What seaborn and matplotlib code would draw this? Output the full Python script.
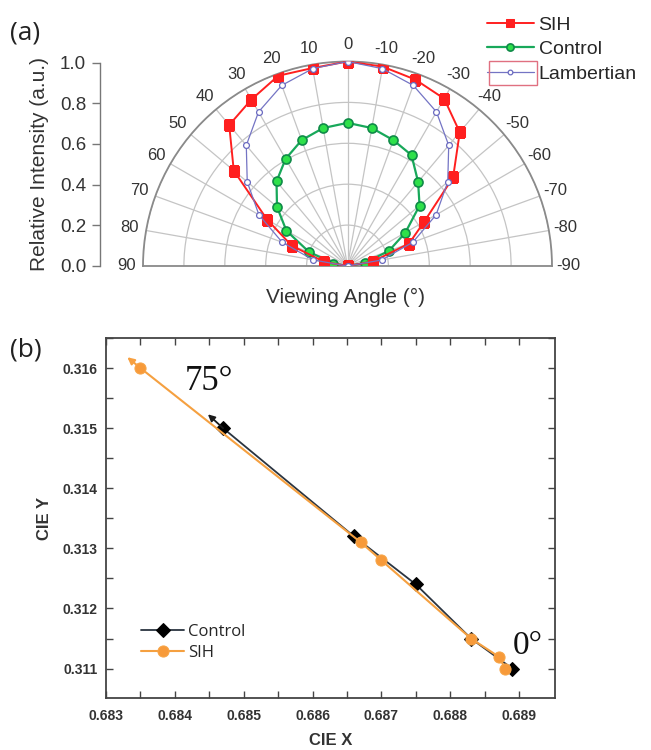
import numpy as np
import pandas as pd
import seaborn as sns
import matplotlib
matplotlib.use('Agg')
import matplotlib.pyplot as plt
from matplotlib.patches import Rectangle

# %% --------------------------------------------------------------------
# Data

# (a) angular emission, angle in degrees (0 = normal, + to the left)
angles = [90, 80, 70, 60, 50, 40, 30, 20, 10, 0,
          -10, -20, -30, -40, -50, -60, -70, -80, -90]
sih = [0.0, 0.115, 0.29, 0.454, 0.726, 0.90, 0.94, 0.99, 0.983, 1.0,
       0.99, 0.97, 0.945, 0.854, 0.674, 0.433, 0.32, 0.125, 0.0]
control = [0.0, 0.07, 0.20, 0.345, 0.45, 0.54, 0.605, 0.655, 0.685, 0.70,
           0.685, 0.655, 0.626, 0.537, 0.46, 0.327, 0.215, 0.085, 0.0]
lambertian = [0.0, 0.17, 0.34, 0.50, 0.64, 0.77, 0.87, 0.94, 0.98, 1.0,
              0.98, 0.94, 0.87, 0.77, 0.64, 0.50, 0.34, 0.17, 0.0]
r_ticks = [0.0, 0.2, 0.4, 0.6, 0.8, 1.0]
theta_ticks = list(range(-90, 91, 10))

# (b) CIE colour coordinates, from 0 deg to 75 deg
ctrl_x = [0.6889, 0.6883, 0.6875, 0.6866, 0.6847]
ctrl_y = [0.3110, 0.3115, 0.3124, 0.3132, 0.3150]
ctrl_arrow = (0.68448, 0.31523)
sih_x = [0.6888, 0.6887, 0.6883, 0.6870, 0.6867, 0.6835]
sih_y = [0.3110, 0.3112, 0.3115, 0.3128, 0.3131, 0.3160]
sih_arrow = (0.68331, 0.31618)
cie_xticks = [0.683, 0.684, 0.685, 0.686, 0.687, 0.688, 0.689]
cie_yticks = [0.311, 0.312, 0.313, 0.314, 0.315, 0.316]

# %% --------------------------------------------------------------------
# Style

sns.set_style('white')
plt.rcParams['font.family'] = ['Liberation Sans', 'DejaVu Sans']

fig = plt.figure(figsize=(6.51, 7.5), dpi=100)

W, H = 651, 750
def rect(l, t, r, b):
    return [l / W, 1 - b / H, (r - l) / W, (b - t) / H]

# %% --------------------------------------------------------------------
# (a) polar plot (square box so the half disc keeps its full radius)

R = (552 - 143) / 2
cy = 266 - R / 2
ax = fig.add_axes(rect(143, cy - R, 552, cy + R), projection='polar')
ax.set_theta_zero_location('N')
ax.set_theta_direction(1)
ax.set_thetamin(-90)
ax.set_thetamax(90)
ax.set_ylim(0, 1)

th = np.deg2rad(angles)
sns.lineplot(x=th, y=sih, ax=ax, sort=False, color='#ff1f1f', lw=1.4,
             marker='s', markersize=7, markeredgecolor='#ff1f1f',
             label='SIH', zorder=4)
sns.lineplot(x=th, y=control, ax=ax, sort=False, color='#18a85a', lw=1.6,
             marker='o', markersize=6.5, markerfacecolor='#2ee04a',
             markeredgecolor='#0f8a48', markeredgewidth=1.2,
             label='Control', zorder=3)
sns.lineplot(x=th, y=lambertian, ax=ax, sort=False, color='#7474c4', lw=0.9,
             marker='o', markersize=4.2, markerfacecolor='white',
             markeredgecolor='#6a6ac0', markeredgewidth=0.9,
             label='Lambertian', zorder=5)

ax.set_xticks(np.deg2rad(theta_ticks))
ax.set_xticklabels([str(t) for t in theta_ticks], fontsize=12, color='#333333')
ax.set_xticks(np.deg2rad(np.arange(-90, 91, 2)), minor=True)
ax.tick_params(axis='x', which='major', pad=5, length=4, direction='in', color='#888888')
ax.tick_params(axis='x', which='minor', length=2, direction='in', color='#999999')
ax.set_yticks(r_ticks)
ax.set_yticklabels([])
ax.grid(True, color='#c4c4c4', lw=0.9)
for s in ax.spines.values():
    s.set_color('#8a8a8a')
    s.set_linewidth(1.3)
ax.set_xlabel('')
ax.set_ylabel('')

leg = ax.legend(loc='upper left', bbox_to_anchor=(487 / W, 1 - 16 / H),
                bbox_transform=fig.transFigure, frameon=False, fontsize=14,
                handlelength=2.4, handletextpad=0.25, labelspacing=0.36,
                borderpad=0, borderaxespad=0, markerscale=0.8)
fig.add_artist(Rectangle((489 / W, 1 - 85 / H), 48 / W, 24 / H,
                         transform=fig.transFigure, fill=False,
                         edgecolor='#e07080', lw=1.0))

# intensity axis on the left
axr = fig.add_axes(rect(100, 62.5, 101, 266))
axr.set_ylim(0, 1)
axr.set_yticks(r_ticks)
axr.set_yticklabels([f'{v:.1f}' for v in r_ticks], fontsize=13.5, color='#333333')
axr.set_xticks([])
for k in ['top', 'right', 'bottom']:
    axr.spines[k].set_visible(False)
axr.spines['left'].set_color('#777777')
axr.spines['left'].set_linewidth(1.0)
axr.tick_params(axis='y', direction='out', length=6, width=1.0, color='#777777', pad=4, left=True)
axr.set_ylabel('Relative Intensity (a.u.)', fontsize=15, color='#333333', labelpad=8)
axr.patch.set_alpha(0)

fig.text(346 / W, 1 - 297 / H, 'Viewing Angle (°)', ha='center', va='center',
         fontsize=15, color='#333333')
fig.text(10 / W, 1 - 33 / H, '(a)', ha='left', va='center', fontsize=19,
         family=['Open Sans', 'DejaVu Sans'], color='#222222')

# %% --------------------------------------------------------------------
# (b) CIE coordinates

bx = fig.add_axes(rect(106, 338, 555, 698))
sns.lineplot(x=ctrl_x, y=ctrl_y, ax=bx, sort=False, color='#2a3440', lw=1.3,
             marker='D', markersize=7.5, markerfacecolor='black',
             markeredgecolor='black', label='Control', zorder=3)
sns.lineplot(x=sih_x, y=sih_y, ax=bx, sort=False, color='#f5a040', lw=1.5,
             marker='o', markersize=8, markerfacecolor='#f79a3a',
             markeredgecolor='#f7a548', label='SIH', zorder=4)
bx.annotate('', xy=ctrl_arrow, xytext=(ctrl_x[-1], ctrl_y[-1]),
            arrowprops=dict(arrowstyle='-|>', color='#1a1a1a', lw=1.3,
                            mutation_scale=10, shrinkA=0, shrinkB=0))
bx.annotate('', xy=sih_arrow, xytext=(sih_x[-1], sih_y[-1]),
            arrowprops=dict(arrowstyle='-|>', color='#f7a040', lw=1.5,
                            mutation_scale=10, shrinkA=0, shrinkB=0))

bx.set_xlim(0.683, 0.68952)
bx.set_ylim(0.31051, 0.31648)
bx.set_xticks(cie_xticks)
bx.set_yticks(cie_yticks)
bx.set_xticks(np.array(cie_xticks[:-1]) + 0.0005, minor=True)
bx.set_yticks(np.array(cie_yticks) + 0.0005, minor=True)
bx.set_xticklabels([f'{v:.3f}' for v in cie_xticks], fontsize=10, fontweight='bold', color='#333333')
bx.set_yticklabels([f'{v:.3f}' for v in cie_yticks], fontsize=10, fontweight='bold', color='#333333')
bx.tick_params(which='both', direction='in', top=True, right=True,
               bottom=True, left=True, length=5, width=1.0, color='#444444')
bx.tick_params(axis='x', pad=8)
bx.tick_params(axis='y', pad=6)
for s in bx.spines.values():
    s.set_color('#444444')
    s.set_linewidth(1.3)
bx.set_xlabel('CIE X', fontsize=12, fontweight='bold', color='#333333', labelpad=7)
bx.set_ylabel('CIE Y', fontsize=12, fontweight='bold', color='#333333', labelpad=8)

bx.legend(loc='lower left', bbox_to_anchor=(0.078, 0.103), frameon=False,
          prop={'family': ['Open Sans', 'DejaVu Sans'], 'size': 12},
          handlelength=2.6, handletextpad=0.2, labelspacing=0.3, borderpad=0,
          borderaxespad=0)

bx.text(0.68415, 0.31577, '75°', fontsize=25, family=['Liberation Serif', 'DejaVu Serif'],
        ha='left', va='center', color='#111111')
bx.text(0.6889, 0.31138, '0°', fontsize=24, family=['Liberation Serif', 'DejaVu Serif'],
        ha='left', va='center', color='#111111')

fig.text(10 / W, 1 - 350 / H, '(b)', ha='left', va='center', fontsize=19,
         family=['Open Sans', 'DejaVu Sans'], color='#222222')

fig.savefig('out.png', dpi=100)
